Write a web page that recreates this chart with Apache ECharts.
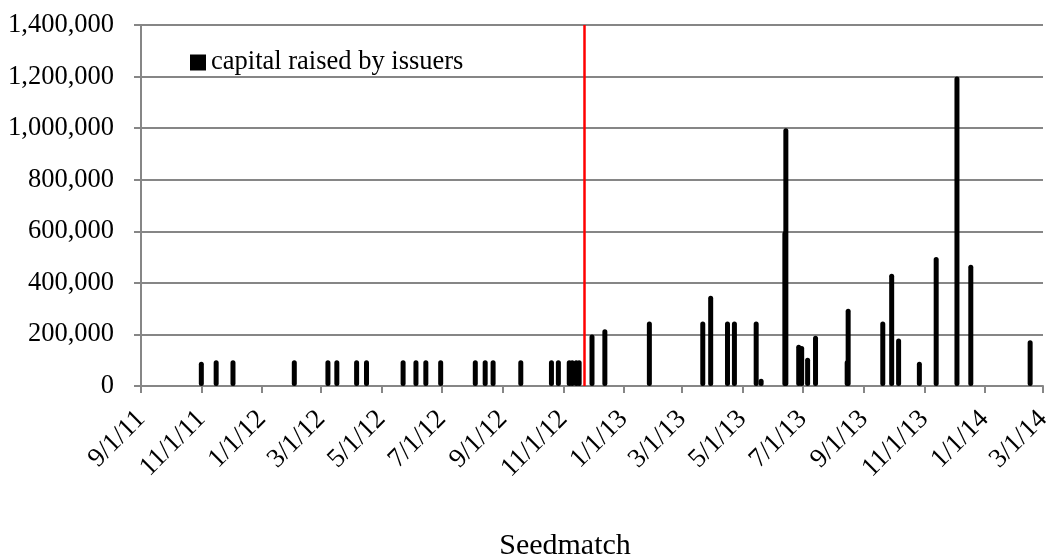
<!DOCTYPE html>
<html>
<head>
<meta charset="utf-8">
<script src="https://cdn.jsdelivr.net/npm/echarts@6/dist/echarts.min.js"></script>
<style>
html,body{margin:0;padding:0;background:#fff;}
#c{width:1061px;height:560px;}
</style>
</head>
<body>
<div id="c"></div>
<script>
// ---- data ----
const fundingDates = [
  '2011-11-01','2011-11-16','2011-12-03','2012-02-03','2012-03-08','2012-03-17',
  '2012-04-06','2012-04-16','2012-05-23','2012-06-05','2012-06-15','2012-06-30',
  '2012-08-04','2012-08-14','2012-08-22','2012-09-19','2012-10-20','2012-10-27',
  '2012-11-07','2012-11-10','2012-11-14','2012-11-17','2012-11-30','2012-12-13',
  '2013-01-27','2013-03-22','2013-03-30','2013-04-16','2013-04-23','2013-05-15',
  '2013-05-20','2013-06-13','2013-06-14','2013-06-27','2013-06-30','2013-07-06',
  '2013-07-14','2013-08-15','2013-08-16','2013-09-20','2013-09-29','2013-10-06',
  '2013-10-27','2013-11-13','2013-12-04','2013-12-18','2014-02-16'
];
const capitalRaised = [
  94000,100000,100000,100000,100000,100000,
  100000,100000,100000,100000,100000,100000,
  100000,100000,100000,100000,100000,100000,
  100000,100000,100000,100000,200000,220000,
  250000,250000,350000,250000,250000,250000,
  28000,600000,1000000,160000,155000,110000,
  195000,100000,300000,250000,435000,184000,
  94000,500000,1200000,470000,177000
];
const axisStart = '2011-09-01';
const axisEnd = '2014-03-01';
const markerDate = '2012-11-22';
const seriesName = 'capital raised by issuers';
const chartTitle = 'Seedmatch';
const yTicks = { min: 0, max: 1400000, interval: 200000 };

function ts(s){ const p = s.split('-').map(Number); return Date.UTC(p[0], p[1]-1, p[2]); }
function fmtDate(v){ const d = new Date(v); return (d.getUTCMonth()+1) + '/' + d.getUTCDate() + '/' + String(d.getUTCFullYear()).slice(2); }
function fmtNum(v){ return String(v).replace(/\B(?=(\d{3})+(?!\d))/g, ','); }

const seriesData = fundingDates.map((d, i) => [ts(d), capitalRaised[i]]);
const font = '"Liberation Serif", "Times New Roman", serif';
const BAR_W = 5;

const chart = echarts.init(document.getElementById('c'), null, {renderer: 'canvas'});
chart.setOption({
  useUTC: true,
  animation: false,
  backgroundColor: '#fff',
  title: {
    text: chartTitle, left: 560, textAlign: 'center', top: 526,
    textStyle: { fontFamily: font, fontSize: 30, fontWeight: 'normal', color: '#000' }
  },
  legend: {
    data: [{ name: seriesName, icon: 'rect' }],
    left: 185, top: 44, itemWidth: 16, itemHeight: 16, itemGap: 5,
    textStyle: { fontFamily: font, fontSize: 26.5, color: '#000', padding: [0,0,0,0] }
  },
  grid: { left: 141, right: 18, top: 25, bottom: 174, containLabel: false },
  xAxis: {
    type: 'time',
    min: ts(axisStart), max: ts(axisEnd),
    splitNumber: 14,
    axisLine: { lineStyle: { color: '#868686', width: 2 } },
    axisTick: { show: true, length: 7, lineStyle: { color: '#868686', width: 2 } },
    splitLine: { show: false },
    axisLabel: {
      rotate: 45, margin: 29, showMinLabel: true, showMaxLabel: true,
      fontFamily: font, fontSize: 27, color: '#000',
      formatter: function(v){ return fmtDate(v); },
      hideOverlap: false
    }
  },
  yAxis: {
    type: 'value', min: yTicks.min, max: yTicks.max, interval: yTicks.interval,
    axisLine: { show: true, lineStyle: { color: '#868686', width: 2 } },
    axisTick: { show: true, length: 7, lineStyle: { color: '#868686', width: 2 } },
    splitLine: { lineStyle: { color: '#868686', width: 2 } },
    axisLabel: { fontFamily: font, fontSize: 26.5, color: '#000', margin: 27, formatter: fmtNum }
  },
  series: [{
    name: seriesName, type: 'custom', data: seriesData,
    encode: { x: 0, y: 1 },
    itemStyle: { color: '#000' },
    renderItem: function(params, api){
      const top = api.coord([api.value(0), api.value(1)]);
      const base = api.coord([api.value(0), 0]);
      return {
        type: 'rect',
        shape: { x: top[0] - BAR_W/2, y: top[1], width: BAR_W, height: base[1] - top[1], r: BAR_W/2 },
        style: { fill: '#000' }
      };
    },
    markLine: {
      silent: true, symbol: ['none','none'], label: { show: false },
      lineStyle: { color: '#ff0000', width: 2.5, type: 'solid' },
      data: [{ xAxis: ts(markerDate) }]
    },
    z: 3
  }]
});
</script>
</body>
</html>
